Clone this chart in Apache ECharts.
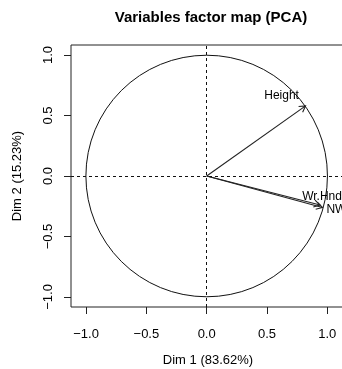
<!DOCTYPE html>
<html>
<head>
<meta charset="utf-8">
<script src="https://cdn.jsdelivr.net/npm/echarts@6/dist/echarts.min.js"></script>
<style>html,body{margin:0;padding:0;background:#fff}#c{width:342px;height:369px}</style>
</head>
<body>
<div id="c"></div>
<script>
// ---- data ----
const varNames = ['Height', 'Wr.Hnd', 'NW'];
const dim1 = [0.82, 0.94, 0.96];
const dim2 = [0.58, -0.24, -0.26];
const tickValues = [-1, -0.5, 0, 0.5, 1];
const tickLabels = ['\u22121.0', '\u22120.5', '0.0', '0.5', '1.0'];
const circleRadius = [1];
const chartTitle = 'Variables factor map (PCA)';
const xTitle = 'Dim 1 (83.62%)';
const yTitle = 'Dim 2 (15.23%)';

// ---- label placement (style) ----
const labelOffsets = { 'Height': [-24, -10], 'Wr.Hnd': [2, -8.5], 'NW': [14, 2.5] };

const FONT = 'Liberation Sans, Arial, Helvetica, sans-serif';
const fmt = v => { const i = tickValues.indexOf(v); return i >= 0 ? tickLabels[i] : ''; };

const chart = echarts.init(document.getElementById('c'), null, { renderer: 'canvas' });
chart.setOption({
  animation: false,
  backgroundColor: '#fff',
  title: {
    text: chartTitle, left: 206, top: 5, textAlign: 'center',
    textStyle: { fontFamily: FONT, fontSize: 15, fontWeight: 'bold', color: '#000' }
  },
  grid: { left: 71, top: 45, width: 274, height: 262, show: true, borderColor: '#222', borderWidth: 1,
          backgroundColor: 'transparent', containLabel: false, outerBoundsMode: 'none' },
  xAxis: {
    type: 'value', min: -1.125, max: 1.147,
    name: xTitle, nameLocation: 'middle', nameGap: 47,
    nameTextStyle: { fontFamily: FONT, fontSize: 13, color: '#000' },
    axisLine: { show: false, onZero: false },
    splitLine: { show: false },
    axisTick: { show: true, inside: false, length: 7, customValues: tickValues, lineStyle: { color: '#222' } },
    axisLabel: { customValues: tickValues, formatter: fmt, margin: 21, fontFamily: FONT, fontSize: 13, color: '#000' }
  },
  yAxis: {
    type: 'value', min: -1.083, max: 1.083,
    name: yTitle, nameLocation: 'middle', nameGap: 47, nameRotate: 90,
    nameTextStyle: { fontFamily: FONT, fontSize: 13, color: '#000' },
    axisLine: { show: false, onZero: false },
    splitLine: { show: false },
    axisTick: { show: true, inside: false, length: 7, customValues: tickValues, lineStyle: { color: '#222' } },
    axisLabel: { customValues: tickValues, formatter: fmt, rotate: 90, margin: 16, fontFamily: FONT, fontSize: 13, color: '#000' }
  },
  series: [
    {
      type: 'custom', silent: true, clip: false,
      data: circleRadius.map(r => [0, 0, r]),
      renderItem: (params, api) => {
        const c = api.coord([api.value(0), api.value(1)]);
        const s = api.size([api.value(2), api.value(2)]);
        const r = (s[0] + s[1]) / 2;
        return { type: 'circle', shape: { cx: c[0], cy: c[1], r: r }, style: { fill: 'none', stroke: '#111', lineWidth: 1 } };
      },
      markLine: {
        silent: true, symbol: 'none', animation: false,
        label: { show: false },
        lineStyle: { color: '#111', width: 1, type: [3, 3] },
        data: [{ xAxis: 0 }, { yAxis: 0 }]
      }
    },
    {
      type: 'custom', silent: true, clip: false,
      data: varNames.map((n, i) => [dim1[i], dim2[i], n]),
      renderItem: (params, api) => {
        const p0 = api.coord([0, 0]);
        const p1 = api.coord([api.value(0), api.value(1)]);
        const name = varNames[params.dataIndex];
        const a = Math.atan2(p1[1] - p0[1], p1[0] - p0[0]);
        const L = 7, sp = Math.PI / 6;
        const h1 = [p1[0] - L * Math.cos(a - sp), p1[1] - L * Math.sin(a - sp)];
        const h2 = [p1[0] - L * Math.cos(a + sp), p1[1] - L * Math.sin(a + sp)];
        const off = labelOffsets[name] || [0, 0];
        const st = { stroke: '#222', lineWidth: 1.1, fill: 'none' };
        return {
          type: 'group',
          children: [
            { type: 'line', shape: { x1: p0[0], y1: p0[1], x2: p1[0], y2: p1[1] }, style: st },
            { type: 'polyline', shape: { points: [h1, p1, h2] }, style: st },
            { type: 'text', x: p1[0] + off[0], y: p1[1] + off[1],
              style: { text: name, fontFamily: FONT, fontSize: 12, fill: '#000', align: 'center', verticalAlign: 'middle' } }
          ]
        };
      }
    }
  ]
});
</script>
</body>
</html>
